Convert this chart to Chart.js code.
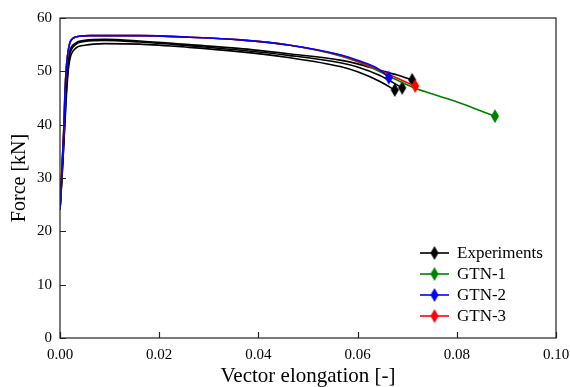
<!DOCTYPE html>
<html>
<head>
<meta charset="utf-8">
<script src="https://cdn.jsdelivr.net/npm/chart.js@4/dist/chart.umd.min.js"></script>
<style>
  html, body { margin: 0; padding: 0; background: #fff; }
  canvas { display: block; }
</style>
</head>
<body>
<canvas id="forceChart" width="570" height="387"></canvas>
<script>
// Experiments: three specimens
const expAx = [0, 0.0004, 0.0008, 0.0012, 0.0016, 0.002, 0.003, 0.005, 0.009, 0.016, 0.026, 0.036, 0.046, 0.0565, 0.06, 0.0645, 0.068, 0.071];
const expAy = [24, 31, 39, 47, 51.8, 53.9, 55.2, 55.8, 56.0, 55.7, 55.0, 54.3, 53.3, 52.1, 51.4, 50.2, 49.3, 48.4];
const expBx = [0, 0.0004, 0.0008, 0.0012, 0.0016, 0.002, 0.003, 0.005, 0.009, 0.016, 0.026, 0.036, 0.046, 0.0565, 0.06, 0.0645, 0.069];
const expBy = [24, 30, 37, 45, 50.5, 53.2, 54.9, 55.6, 55.8, 55.5, 54.8, 54.0, 53.0, 51.6, 50.8, 49.2, 46.9];
const expCx = [0, 0.0004, 0.0008, 0.0012, 0.0016, 0.002, 0.003, 0.005, 0.009, 0.016, 0.026, 0.036, 0.046, 0.0565, 0.06, 0.0645, 0.0675];
const expCy = [24, 30, 37, 44, 49.5, 52.3, 54.2, 54.9, 55.2, 55.1, 54.5, 53.7, 52.6, 50.9, 49.9, 48.1, 46.5];

// GTN simulations
const gtn1X = [0, 0.0004, 0.0008, 0.001, 0.0013, 0.0016, 0.002, 0.0025, 0.003, 0.004, 0.006, 0.01, 0.0161, 0.0262, 0.0363, 0.0464, 0.0565, 0.06, 0.0635, 0.0663, 0.069, 0.072, 0.0746, 0.078, 0.0815, 0.0845, 0.0877];
const gtn1Y = [24, 32, 40, 46, 51, 53.5, 55.4, 56.1, 56.4, 56.6, 56.7, 56.7, 56.7, 56.4, 55.9, 54.9, 52.9, 51.8, 50.4, 49.1, 47.9, 46.7, 45.9, 44.9, 43.8, 42.7, 41.6];
const gtn2X = [0, 0.0004, 0.0008, 0.001, 0.0013, 0.0016, 0.002, 0.0025, 0.003, 0.004, 0.006, 0.01, 0.0161, 0.0262, 0.0363, 0.0464, 0.0565, 0.06, 0.0635, 0.065, 0.0663];
const gtn2Y = [24, 32, 40, 46, 51, 53.5, 55.4, 56.1, 56.4, 56.6, 56.7, 56.7, 56.7, 56.4, 55.9, 54.9, 53.1, 52.1, 50.8, 49.9, 48.8];
const gtn3X = [0, 0.0004, 0.0008, 0.001, 0.0013, 0.0016, 0.002, 0.0025, 0.003, 0.004, 0.006, 0.01, 0.0161, 0.0262, 0.0363, 0.0464, 0.0565, 0.06, 0.0635, 0.0663, 0.069, 0.0716];
const gtn3Y = [24, 32, 40, 46, 51, 53.5, 55.4, 56.1, 56.4, 56.6, 56.7, 56.7, 56.7, 56.4, 55.9, 54.9, 53.0, 51.9, 50.6, 49.4, 48.3, 47.25];

const xTicks = [0, 0.02, 0.04, 0.06, 0.08, 0.10];
const yTicks = [0, 10, 20, 30, 40, 50, 60];

const legendItems = [
    { label: 'Experiments', color: '#000000' },
    { label: 'GTN-1', color: '#008000' },
    { label: 'GTN-2', color: '#0000ff' },
    { label: 'GTN-3', color: '#ff0000' }
];

const FONT = "'Liberation Serif', 'DejaVu Serif', serif";

function zip(xs, ys) {
    return xs.map((x, i) => ({ x, y: ys[i] }));
}

function makeDiamond(color) {
    const c = document.createElement('canvas');
    c.width = 10;
    c.height = 16;
    const g = c.getContext('2d');
    g.fillStyle = color;
    g.beginPath();
    g.moveTo(5, 1);
    g.lineTo(9, 8);
    g.lineTo(5, 15);
    g.lineTo(1, 8);
    g.closePath();
    g.fill();
    return c;
}

const diamonds = {};
legendItems.forEach((it) => { diamonds[it.color] = makeDiamond(it.color); });

function series(label, xs, ys, color, order) {
    return {
        label,
        data: zip(xs, ys),
        borderColor: color,
        backgroundColor: color,
        borderWidth: 1.6,
        cubicInterpolationMode: 'monotone',
        pointStyle: diamonds[color],
        pointRadius: (ctx) => (ctx.dataIndex === ctx.dataset.data.length - 1 ? 5 : 0),
        pointHoverRadius: 0,
        order
    };
}

const frameAndTicks = {
    id: 'frameAndTicks',
    afterDraw(chart) {
        const { ctx, chartArea: a, scales } = chart;
        ctx.save();
        ctx.strokeStyle = '#222';
        ctx.lineWidth = 1.2;
        ctx.strokeRect(a.left, a.top, a.right - a.left, a.bottom - a.top);
        ctx.beginPath();
        xTicks.forEach((v) => {
            const px = Math.round(scales.x.getPixelForValue(v)) + 0.5;
            ctx.moveTo(px, a.bottom);
            ctx.lineTo(px, a.bottom - 6);
        });
        yTicks.forEach((v) => {
            const py = Math.round(scales.y.getPixelForValue(v)) + 0.5;
            ctx.moveTo(a.left, py);
            ctx.lineTo(a.left + 6, py);
        });
        ctx.stroke();

        // legend, lower right inside the axes
        ctx.font = `17px ${FONT}`;
        ctx.textBaseline = 'middle';
        ctx.textAlign = 'left';
        legendItems.forEach((it, i) => {
            const y = a.bottom - 85 + i * 21;
            const x0 = a.right - 136;
            ctx.strokeStyle = it.color;
            ctx.lineWidth = 1.6;
            ctx.beginPath();
            ctx.moveTo(x0, y);
            ctx.lineTo(x0 + 29, y);
            ctx.stroke();
            const d = diamonds[it.color];
            ctx.drawImage(d, x0 + 14.5 - d.width / 2, y - d.height / 2);
            ctx.fillStyle = '#000';
            ctx.fillText(it.label, x0 + 37, y + 1);
        });
        ctx.restore();
    }
};

Chart.defaults.font.family = FONT;
Chart.defaults.color = '#000';

new Chart(document.getElementById('forceChart'), {
    type: 'line',
    data: {
        datasets: [
            series('Experiments', expAx, expAy, '#000000', 3),
            series('Experiments', expBx, expBy, '#000000', 3),
            series('Experiments', expCx, expCy, '#000000', 3),
            series('GTN-1', gtn1X, gtn1Y, '#008000', 2),
            series('GTN-2', gtn2X, gtn2Y, '#0000ff', 0),
            series('GTN-3', gtn3X, gtn3Y, '#ff0000', 1)
        ]
    },
    options: {
        responsive: false,
        animation: false,
        devicePixelRatio: 1,
        layout: { padding: { left: 0, right: 14, top: 18, bottom: 0 } },
        plugins: { legend: { display: false }, tooltip: { enabled: false } },
        scales: {
            x: {
                type: 'linear',
                min: 0,
                max: 0.1,
                afterBuildTicks: (s) => { s.ticks = xTicks.map((v) => ({ value: v })); },
                afterFit: (s) => { s.height = 49; s.paddingLeft = 0; s.paddingRight = 0; },
                grid: { display: false, drawTicks: false },
                border: { display: false },
                ticks: { padding: 8, font: { size: 15 }, maxRotation: 0, callback: (v) => Number(v).toFixed(2) },
                title: { display: true, text: 'Vector elongation [-]', font: { size: 21, lineHeight: 1 }, padding: { top: 0, bottom: 0 } }
            },
            y: {
                min: 0,
                max: 60,
                afterBuildTicks: (s) => { s.ticks = yTicks.map((v) => ({ value: v })); },
                afterFit: (s) => { s.width = 60; s.paddingTop = 0; s.paddingBottom = 0; },
                grid: { display: false, drawTicks: false },
                border: { display: false },
                ticks: { padding: 8, font: { size: 15 } },
                title: { display: true, text: 'Force [kN]', font: { size: 20, lineHeight: 1 }, padding: { top: 10, bottom: 0 } }
            }
        }
    },
    plugins: [frameAndTicks]
});
</script>
</body>
</html>
